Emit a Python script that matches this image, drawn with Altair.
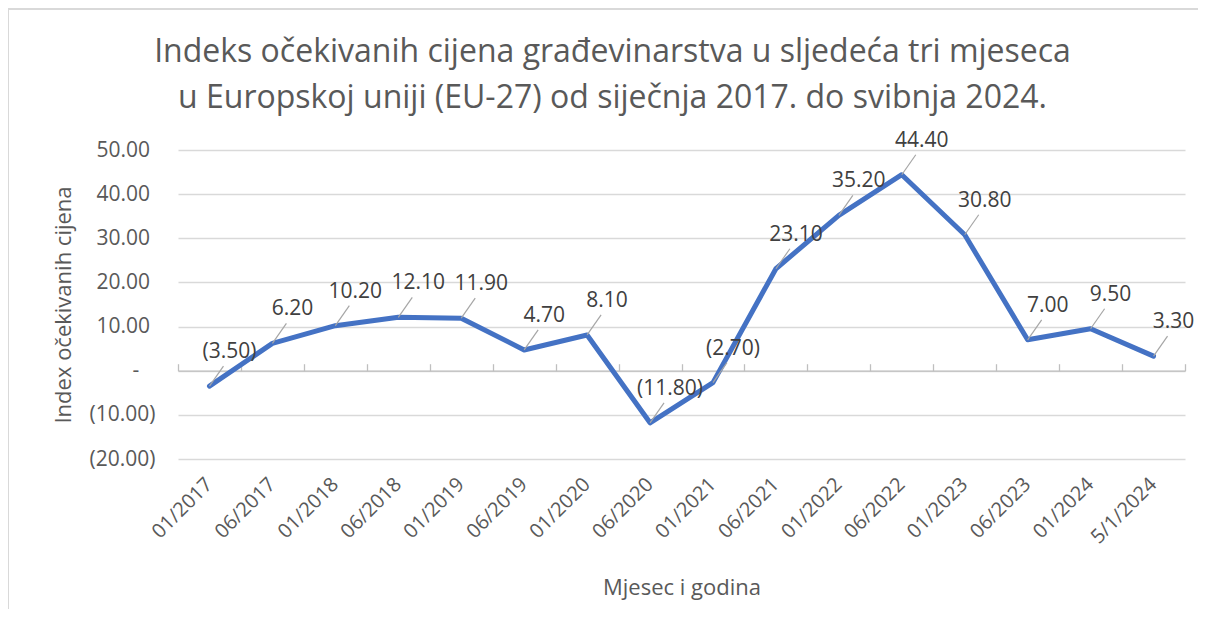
import altair as alt
import pandas as pd

categories = ["01/2017", "06/2017", "01/2018", "06/2018", "01/2019", "06/2019",
              "01/2020", "06/2020", "01/2021", "06/2021", "01/2022", "06/2022",
              "01/2023", "06/2023", "01/2024", "5/1/2024"]
values = [-3.5, 6.2, 10.2, 12.1, 11.9, 4.7, 8.1, -11.8, -2.7, 23.1, 35.2, 44.4,
          30.8, 7.0, 9.5, 3.3]
y_ticks = [-20, -10, 0, 10, 20, 30, 40, 50]

title_lines = ["Indeks očekivanih cijena građevinarstva u sljedeća tri mjeseca",
               "u Europskoj uniji (EU-27) od siječnja 2017. do svibnja 2024."]
x_title = "Mjesec i godina"
y_title = "Index očekivanih cijena"

df = pd.DataFrame({"cat": categories, "val": values})

W, H = 1007, 309
FONT = "Open Sans"
GREY = "#595959"
PAD = "\u00a0\u200b"          # trailing space that survives trimming
PAD3 = "\u00a0\u00a0\u00a0\u200b"

x_scale = alt.Scale(type="band", paddingInner=0, paddingOuter=0, domain=categories)
y_scale = alt.Scale(domain=[-20, 50], nice=False, zero=False)

y_axis = alt.Axis(
    values=y_ticks, domain=False, ticks=False, grid=True, gridColor="#d9d9d9",
    gridWidth=1.3, labelPadding=23, labelFontSize=21, labelFont=FONT,
    labelColor=GREY,
    labelExpr=("datum.value == 0 ? '-" + PAD3 + "' : (datum.value < 0 ? '(' + format(-datum.value, '.2f') + ')' : format(datum.value, '.2f') + '" + PAD + "')"),
    title=y_title, titleFont=FONT, titleFontSize=22, titleFontWeight="normal",
    titleColor=GREY, titlePadding=14,
)
y_enc = alt.Y("val:Q", scale=y_scale, axis=y_axis)

x_label_axis = alt.Axis(
    orient="bottom", labelAngle=-45, labelAlign="right", labelBaseline="middle",
    labelPadding=22, ticks=False, domain=False, grid=False,
    labelFontSize=20, labelFont=FONT, labelColor=GREY,
    title=x_title, titleFont=FONT, titleFontSize=22, titleFontWeight="normal",
    titleColor=GREY, titlePadding=31,
)
zero_offset = -(H * 50 / 70)
x_tick_axis = alt.Axis(
    orient="top", offset=zero_offset, labels=False, title=None, grid=False,
    domain=True, domainColor="#bfbfbf", domainWidth=1.3,
    ticks=True, tickBand="extent", tickSize=7, tickColor="#bfbfbf", tickWidth=1.3,
)

line = alt.Chart(df).mark_line(
    color="#4472C4", strokeWidth=5, strokeCap="round", strokeJoin="round"
).encode(
    x=alt.X("cat:N", sort=categories, scale=x_scale, axis=x_label_axis, bandPosition=0.5),
    y=y_enc,
)

leaders = alt.Chart(df).mark_rule(
    color="#a6a6a6", strokeWidth=1.2, x2Offset=14, y2Offset=-20
).encode(
    x=alt.X("cat:N", sort=categories, scale=x_scale, axis=x_tick_axis, bandPosition=0.5),
    x2=alt.X2("cat"),
    y=y_enc,
    y2=alt.Y2("val"),
)

labels = alt.Chart(df).transform_calculate(
    lbl="datum.val < 0 ? '(' + format(-datum.val, '.2f') + ')' : format(datum.val, '.2f')"
).mark_text(
    dx=20, dy=-34, fontSize=21, font=FONT, color="#404040", align="center",
    baseline="middle"
).encode(
    x=alt.X("cat:N", sort=categories, scale=x_scale, axis=None, bandPosition=0.5),
    y=y_enc,
    text="lbl:N",
)

frame_df = pd.DataFrame({"k": [0]})
frame = alt.Chart(frame_df).mark_rect(
    fill=None, fillOpacity=0, stroke="#d9d9d9", strokeWidth=2
).encode(
    x=alt.value(-170), x2=alt.value(W + 200), y=alt.value(-141), y2=alt.value(H + 300)
)

chart = alt.layer(frame, line, leaders, labels).resolve_axis(
    x="independent"
).properties(
    width=W, height=H,
    autosize=alt.AutoSizeParams(type="none"),
    padding={"left": 170, "top": 142, "right": 13, "bottom": 150},
    title=alt.TitleParams(
        text=title_lines, font=FONT, fontSize=32, fontWeight="normal",
        color=GREY, anchor="middle", dx=-69, dy=141, offset=34, lineHeight=46,
    ),
).configure_view(stroke=None)

chart.save("out.html", embed_options={"renderer": "svg", "actions": False})
